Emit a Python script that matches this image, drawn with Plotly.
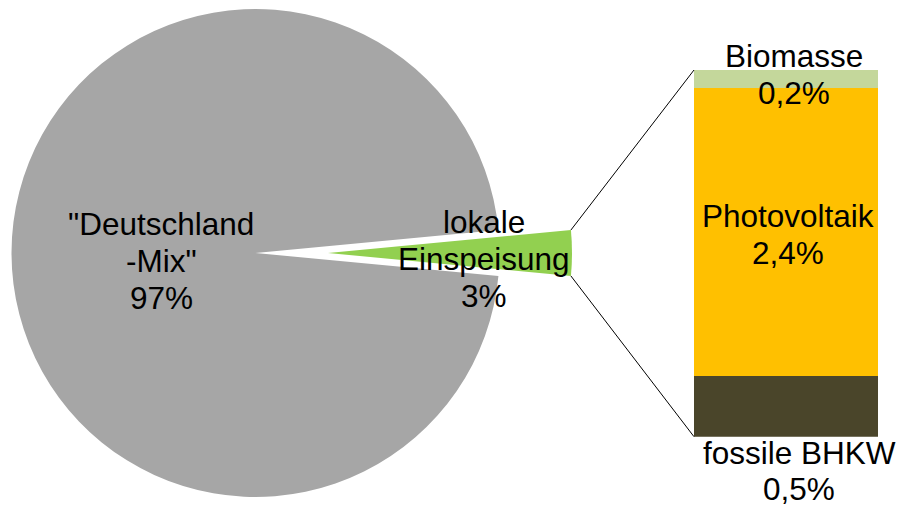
import math
import plotly.graph_objects as go

# ---- data ----
pie_labels = ['"Deutschland<br>-Mix"', 'lokale<br>Einspeisung']
pie_values = [97, 3]
pie_colors = ["#A6A6A6", "#92D050"]

bar_labels = ["fossile BHKW", "Photovoltaik", "Biomasse"]
bar_values = [0.50, 2.36, 0.15]
bar_text = ["0,5%", "2,4%", "0,2%"]
bar_colors = ["#4A452A", "#FFC000", "#C4D79B"]

W, H = 900, 507
FONT = "Arial, Liberation Sans, sans-serif"
FS = 31.5

# geometry (pixels)
cx, cy, R = 255.5, 253.0, 244.0
explode = 72.5
bar_x0, bar_x1 = 694.0, 878.3
bar_top, bar_bot = 70.0, 436.7


def px(x):
    return x / W


def py(y):
    return (H - y) / H


small = pie_values[1]
half_angle = small / sum(pie_values) * 360 / 2
rotation = 90 - half_angle

# pie order: small slice first, clockwise, centred at 3 o'clock
vals = [pie_values[1], pie_values[0]]
transparent = "rgba(0,0,0,0)"

fig = go.Figure()
# main pie (small slice hidden)
fig.add_trace(go.Pie(
    values=vals, labels=["small", "big"], sort=False, direction="clockwise",
    rotation=rotation, textinfo="none", hoverinfo="skip", showlegend=False,
    marker=dict(colors=[transparent, pie_colors[0]], line=dict(width=0)),
    domain=dict(x=[px(cx - R), px(cx + R)], y=[py(cy + R), py(cy - R)]),
))
# exploded small slice
gx = cx + explode
fig.add_trace(go.Pie(
    values=vals, labels=["small", "big"], sort=False, direction="clockwise",
    rotation=rotation, textinfo="none", hoverinfo="skip", showlegend=False,
    marker=dict(colors=[pie_colors[1], transparent], line=dict(width=0)),
    domain=dict(x=[px(gx - R), px(gx + R)], y=[py(cy + R), py(cy - R)]),
))

# stacked bar
for lab, v, c in zip(bar_labels, bar_values, bar_colors):
    fig.add_trace(go.Bar(
        x=[0], y=[v], name=lab, marker=dict(color=c, line=dict(width=0)),
        width=1, showlegend=False, hoverinfo="skip",
    ))

fig.update_layout(
    barmode="stack", width=W, height=H,
    margin=dict(l=0, r=0, t=0, b=0),
    paper_bgcolor="white", plot_bgcolor="rgba(0,0,0,0)",
    xaxis=dict(domain=[px(bar_x0), px(bar_x1)], range=[-0.5, 0.5], visible=False),
    yaxis=dict(domain=[py(bar_bot), py(bar_top)], range=[0, sum(bar_values)], visible=False),
)

# connector lines from slice tip to bar corners
hr = math.radians(half_angle)
tip_x = gx + R * math.cos(hr)
tip_top = cy - R * math.sin(hr)
tip_bot = cy + R * math.sin(hr)
for ty, by in [(tip_top, bar_top), (tip_bot, bar_bot)]:
    fig.add_shape(type="line", xref="paper", yref="paper",
                  x0=px(tip_x), y0=py(ty), x1=px(bar_x0), y1=py(by),
                  line=dict(color="#000000", width=1))


# labels: each line placed individually (baseline in pixels)
def add_label(lines, xc, first_baseline, ls=37.0):
    for i, t in enumerate(lines):
        b = first_baseline + i * ls
        fig.add_annotation(x=px(xc), y=py(b - 0.3465 * FS), xref="paper", yref="paper",
                           text=t, showarrow=False, xanchor="center", yanchor="middle",
                           font=dict(family=FONT, size=FS, color="black"))


tot = sum(pie_values)
add_label(pie_labels[0].split("<br>") + [f"{round(pie_values[0] / tot * 100)}%"], 161, 235)
add_label(pie_labels[1].split("<br>") + [f"{round(pie_values[1] / tot * 100)}%"], 484, 233)
add_label([bar_labels[2], bar_text[2]], 794, 67)
add_label([bar_labels[1], bar_text[1]], 788, 227)
add_label([bar_labels[0], bar_text[0]], 799, 464, ls=35.5)

fig.write_html("out.html")
